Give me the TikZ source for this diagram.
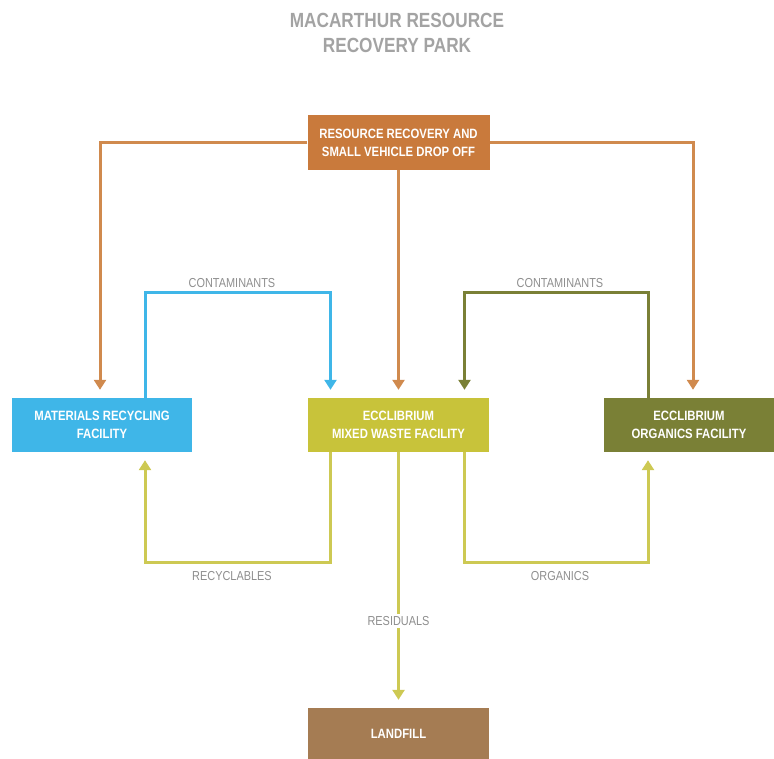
\documentclass[tikz,border=0pt]{standalone}
\usepackage{fontspec}
\usepackage{xcolor}
\usetikzlibrary{arrows.meta,calc}
\newfontfamily\condfont{Liberation Sans}[FakeStretch=0.84]

\definecolor{rrorange}{HTML}{C97A3C}
\definecolor{rrline}{HTML}{D08A4E}
\definecolor{mrfblue}{HTML}{3FB6E8}
\definecolor{mixyellow}{HTML}{C8C33A}
\definecolor{mixline}{HTML}{CDC953}
\definecolor{orgolive}{HTML}{7A8036}
\definecolor{lfbrown}{HTML}{A57C53}
\definecolor{titlegray}{HTML}{A3A3A3}
\definecolor{labelgray}{HTML}{8E8E8E}

\begin{document}
\begin{tikzpicture}[x=1pt,y=-1pt,
    facility/.style={draw=none, text=white, align=center, inner sep=0pt,
      minimum height=54pt, font=\condfont\bfseries\fontsize{13.5}{18}\selectfont},
    flow/.style={line width=3pt, -{Triangle[width=12pt,length=10pt]}, shorten >=8pt},
    flowlabel/.style={text=labelgray, font=\condfont\fontsize{13}{15}\selectfont, inner sep=2pt}]
      % \draw[help lines, gray!50, very thin] (0,0) grid[step=50] (774,759);
      \useasboundingbox (0,0) rectangle (774,759);

      % title
      \node[text=titlegray, align=center, font=\condfont\bfseries\fontsize{20.5}{25}\selectfont] (title) at (397,33)
        {MACARTHUR RESOURCE\\RECOVERY PARK};

      % boxes
      \node[facility, fill=rrorange, minimum width=182pt, minimum height=55pt] (rr) at (398.5,142.5)
        {RESOURCE RECOVERY AND\\SMALL VEHICLE DROP OFF};
      \node[facility, fill=mrfblue, minimum width=180pt] (mrf) at (102,425)
        {MATERIALS RECYCLING\\FACILITY};
      \node[facility, fill=mixyellow, minimum width=181pt] (mix) at (398.5,425)
        {ECCLIBRIUM\\MIXED WASTE FACILITY};
      \node[facility, fill=orgolive, minimum width=170pt] (org) at (689,425)
        {ECCLIBRIUM\\ORGANICS FACILITY};
      \node[facility, fill=lfbrown, minimum width=181pt, minimum height=51pt] (lf) at (398.5,733.5)
        {LANDFILL};

      % turning points
      \coordinate (bluetop) at (232,293);
      \coordinate (greentop) at (560,293);
      \coordinate (recbot) at (232,562);
      \coordinate (orgbot) at (560,562);

      % drop off
      \draw[flow, rrline] (rr.west) -| ([xshift=-2pt]mrf.north);
      \draw[flow, rrline] (rr.south) -- (mix.north);
      \draw[flow, rrline] (rr.east) -| ([xshift=4pt]org.north);

      % contaminants
      \draw[flow, mrfblue] ([xshift=43pt]mrf.north) |- (bluetop) -| ([xshift=-68pt]mix.north);
      \node[flowlabel, anchor=south] (cont1) at ([yshift=3pt]bluetop) {CONTAMINANTS};
      \draw[flow, orgolive] ([xshift=-41pt]org.north) |- (greentop) -| ([xshift=66pt]mix.north);
      \node[flowlabel, anchor=south] (cont2) at ([yshift=3pt]greentop) {CONTAMINANTS};

      % outputs
      \draw[flow, mixline] ([xshift=-68pt]mix.south) |- (recbot) -| ([xshift=43pt]mrf.south);
      \node[flowlabel, anchor=north] (recy) at ([yshift=-7pt]recbot) {RECYCLABLES};
      \draw[flow, mixline] ([xshift=66pt]mix.south) |- (orgbot) -| ([xshift=-41pt]org.south);
      \node[flowlabel, anchor=north] (orgs) at ([yshift=-7pt]orgbot) {ORGANICS};
      \draw[flow, mixline] (mix.south) -- (lf.north)
        node[pos=0.66, flowlabel, fill=white] (resid) {RESIDUALS};
    \end{tikzpicture}
\end{document}
